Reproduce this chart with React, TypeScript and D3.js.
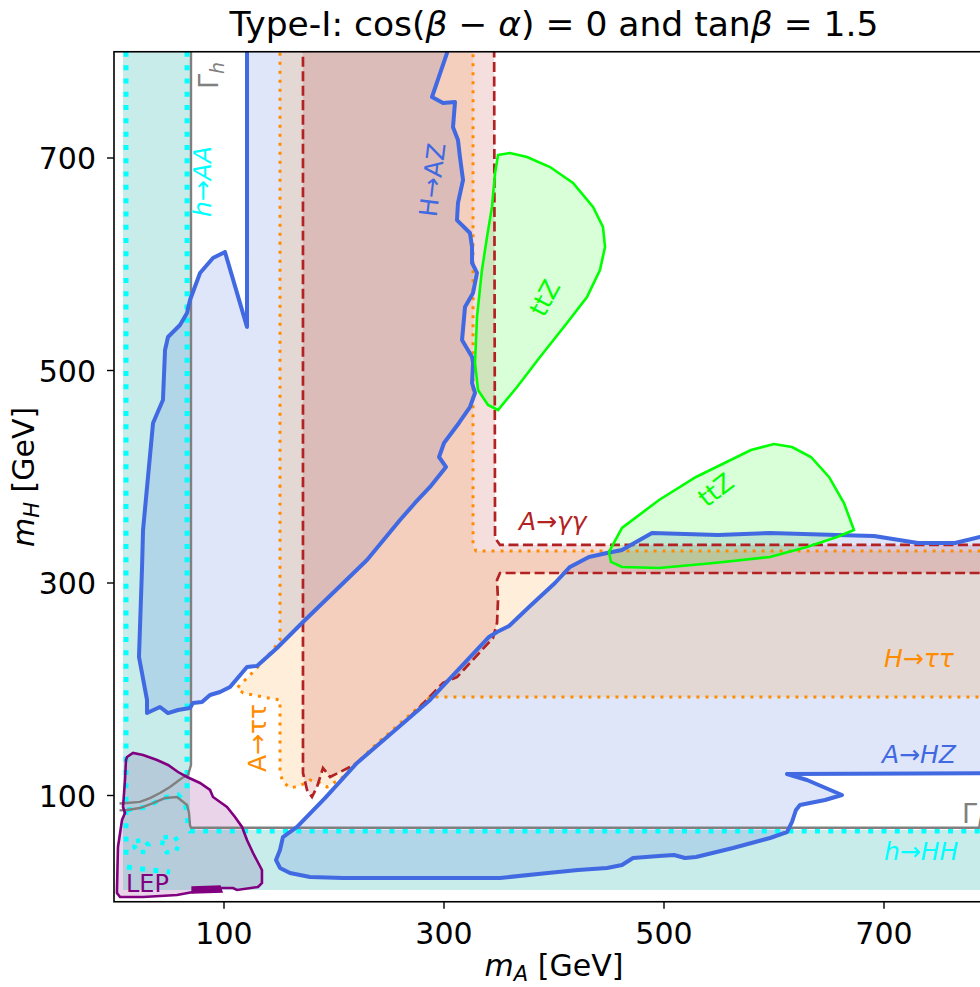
import React from 'react';
import * as d3 from 'd3';

// ---------- data (m_A, m_H) in GeV ----------
const xTicks = [100, 300, 500, 700];
const yTicks = [100, 300, 500, 700];

const tealRegion = [[8.2, 850], [8.2, 11.1], [850, 11.1], [850, 67.5], [69.1, 67.5], [69.1, 850]];

const lepRegion = [[11.8, 136.2], [17.3, 140.0], [26.4, 138.1], [39.1, 133.4], [49.1, 128.7], [58.2, 122.1], [66.4, 117.4], [78.2, 111.8], [87.3, 105.2], [90, 98.6], [102.7, 89.2], [110, 79.8], [116.4, 70.4], [120.9, 58.1], [126.4, 45.9], [134.5, 29.9], [134.5, 17.6], [130.9, 13.9], [111.8, 11.1], [108.2, 12.9], [96.4, 12.9], [71.8, 9.2], [57.3, 6.4], [26.4, 4.5], [5.5, 4.5], [2.7, 8.2], [2.7, 11.1], [3.6, 51.5], [7.3, 77.0], [10, 83.5], [8.2, 89.2], [10, 114.6], [10.9, 133.4]];
const lepBlob = [[71, 13.9], [96.4, 14.8], [98.2, 9.2], [71, 8.2]];

const hazRegion = [[120.9, 850], [120.9, 541.0], [100.9, 611.5], [90, 605.9], [78.2, 591.8], [69.1, 566.4], [66.4, 554.1], [60, 542.8], [49.1, 531.5], [46.4, 519.3], [44.5, 472.2], [35.5, 450.6], [26.4, 349.9], [25.5, 315.1], [22.7, 230.4], [30, 189.9], [30, 177.6], [41.8, 183.3], [49.1, 177.6], [58.2, 180.5], [69.1, 182.4], [71.8, 187.1], [80, 188.0], [87.3, 194.6], [96.4, 197.4], [105.5, 202.1], [120.9, 221.0], [130, 221.9], [148.2, 238.8], [171.8, 263.3], [230, 321.6], [260, 359.3], [273.6, 375.3], [287.3, 390.4], [301.8, 409.2], [295.5, 418.6], [300, 431.8], [313.6, 450.6], [323.6, 465.6], [328.2, 478.8], [325.5, 488.2], [326.4, 507.1], [325.5, 512.7], [316.4, 528.7], [319.1, 559.8], [326.4, 573.0], [330, 591.8], [325.5, 601.2], [325.5, 616.2], [323.6, 629.4], [311.8, 641.6], [312.7, 657.6], [317.3, 679.3], [314.5, 700.9], [312.7, 717], [308.2, 729], [310, 752.7], [299.1, 751.8], [289.1, 757.4], [302.7, 798.8], [306, 850]];

const ahzRegion = [[850, 343.3], [787.3, 343.3], [764.5, 337.6], [730.9, 337.6], [690.9, 344.2], [657.3, 345.2], [596.4, 347.1], [549.1, 345.2], [489.1, 347.1], [461.8, 331.1], [448.2, 328.2], [431.8, 324.5], [414.5, 315.1], [400.9, 300], [377.3, 277.4], [359.1, 259.5], [348.2, 253.9], [340.9, 249.2], [287.3, 189.9], [220.9, 130.6], [191.8, 97.6], [166.4, 70.4], [153.6, 60.9], [150.9, 48.7], [147.3, 39.3], [150.9, 31.8], [160, 27.1], [178.2, 23.3], [208.2, 22.4], [269.1, 22.4], [350.9, 22.4], [394.5, 27.1], [421.8, 29.9], [448.2, 31.8], [461.8, 34.6], [471.8, 41.2], [495.5, 43.1], [509.1, 44.0], [519.1, 41.2], [529.1, 42.1], [562.7, 50.6], [596.4, 60.0], [611.8, 65.6], [616.4, 75.1], [620, 86.4], [623.6, 91.1], [646.4, 95.8], [661.8, 100.5], [630, 114.6], [611.8, 120.2], [850, 121.2]];

const tautauRegion = [[150.9, 850], [150.9, 246.4], [144.5, 237.0], [130, 220.0], [111.8, 201.2], [117.3, 196.5], [135.5, 192.7], [150.9, 189.9], [150.9, 121.2], [153.6, 112.7], [160, 107.1], [169.1, 109.0], [178.2, 114.6], [187.3, 111.8], [193.6, 108.0], [208.2, 117.4], [235.5, 145.6], [287.3, 192.7], [850, 192.7], [850, 330.1], [329.1, 330.1], [326.4, 335.8], [326.4, 850]];

const gagaRegion = [[171.8, 850], [171.8, 121.2], [175.5, 105.2], [180, 98.6], [184.5, 108.0], [190, 125.9], [196.4, 117.4], [214.5, 126.8], [220.9, 130.6], [241.8, 149.4], [269.1, 173.9], [299.1, 205.9], [311.8, 211.5], [323.6, 224.7], [344.5, 248.2], [348.2, 262.4], [349.1, 284.0], [348.2, 302.8], [350.9, 309.4], [850, 309.4], [850, 335.8], [350.9, 335.8], [346.4, 342.4], [345.5, 850]];

const ttzUpper = [[349.1, 702.8], [360, 704.7], [375.5, 700.9], [396.4, 691.5], [417.3, 676.5], [435.5, 653.9], [444.5, 635.1], [446.4, 616.2], [441.8, 594.6], [430, 569.2], [411.8, 544.7], [387.3, 512.7], [366.4, 484.5], [349.1, 462.8], [340, 467.5], [330.9, 481.6], [328.2, 507.1], [330, 550.4], [334.5, 594.6], [339.1, 625.6], [343.6, 653.9], [346.4, 685.9]];

const ttzLower = [[450, 329.2], [461.8, 351.8], [495.5, 378.1], [529.1, 399.8], [579.1, 425.2], [600, 430.8], [616.4, 428.0], [633.6, 418.6], [650, 399.8], [663.6, 375.3], [672.7, 349.9], [657.3, 343.3], [630, 333.9], [596.4, 324.5], [545.5, 318.8], [495.5, 314.1], [461.8, 315.1], [451.8, 319.8]];

const cyanLeft = [[10.9, 850], [10.9, 39]];
const cyanRight = [[66.4, 850], [66.4, 100]];
const cyanCorner = [[11.8, 86.4], [30, 89.2], [44.5, 97.6], [58.2, 100.5], [64.5, 93], [66.4, 83.5], [67.3, 70.4], [69.1, 66.6], [850, 66.6]];
const cyanLoop1 = [[20, 57], [27.5, 58.5], [31.5, 53], [28.5, 47], [21.5, 46.5], [18.5, 51.5]];
const cyanLoop2 = [[45, 60.5], [54.5, 61.5], [59.5, 55.5], [56.5, 48], [48, 46.5], [43.5, 52.5]];
const cyanBottom = [[11.8, 32.7], [32.7, 29.9], [50.9, 28]];

const grayLine1 = [[70, 850], [70, 128.7], [67.3, 119.3], [61.8, 116.5], [50.9, 108], [41.8, 102.4], [32.7, 97.6], [23.6, 94], [11.8, 93], [5, 92.5]];
const grayLine2 = [[5, 86], [11.8, 86.4], [23.6, 88.2], [35.5, 92.9], [46.4, 97.6], [57.3, 98.6], [66.4, 91.1], [68.2, 83.5], [69.1, 72], [70, 69.6], [850, 69.6]];

const FONT = 'DejaVu Sans, Verdana, sans-serif';

export default function App() {
  const x = d3.scaleLinear().domain([0, 800]).range([114, 994]);
  const y = d3.scaleLinear().domain([0, 800]).range([901.75, 51.75]);
  const line = d3.line<number[]>().x(d => x(d[0])).y(d => y(d[1]));
  const open = (pts: number[][]) => line(pts) || '';
  const closed = (pts: number[][]) => (line(pts) || '') + 'Z';

  const plotL = x(0), plotR = x(800), plotT = y(800), plotB = y(0);
  const annot = 25;

  return (
    <svg width={980} height={987} style={{ position: 'absolute', left: 0, top: 0, background: '#fff' }} fontFamily={FONT}>
      <defs>
        <clipPath id="plotclip">
          <rect x={plotL} y={plotT} width={plotR - plotL} height={plotB - plotT} />
        </clipPath>
      </defs>
      <rect x={0} y={0} width={980} height={987} fill="#fff" />

      <g clipPath="url(#plotclip)">
        {/* fills */}
        <path d={closed(lepRegion)} fill="purple" fillOpacity={0.17} />
        <path d={closed(tealRegion)} fill="lightseagreen" fillOpacity={0.25} />
        <path d={closed(hazRegion)} fill="royalblue" fillOpacity={0.17} />
        <path d={closed(ahzRegion)} fill="royalblue" fillOpacity={0.17} />
        <path d={closed(tautauRegion)} fill="darkorange" fillOpacity={0.15} />
        <path d={closed(gagaRegion)} fill="firebrick" fillOpacity={0.15} />
        <path d={closed(ttzUpper)} fill="lime" fillOpacity={0.15} />
        <path d={closed(ttzLower)} fill="lime" fillOpacity={0.15} />

        {/* cyan dotted */}
        {[cyanLeft, cyanRight, cyanCorner, cyanBottom].map((p, i) => (
          <path key={'c' + i} d={open(p)} fill="none" stroke="cyan" strokeWidth={5} strokeDasharray="5 8.3" />
        ))}
        {[cyanLoop1, cyanLoop2].map((p, i) => (
          <path key={'cl' + i} d={closed(p)} fill="none" stroke="cyan" strokeWidth={4.5} strokeDasharray="4.5 7" />
        ))}

        {/* Gamma_h */}
        <path d={open(grayLine1)} fill="none" stroke="gray" strokeWidth={2.4} />
        <path d={open(grayLine2)} fill="none" stroke="gray" strokeWidth={2.4} />

        {/* outlines */}
        <path d={closed(tautauRegion)} fill="none" stroke="darkorange" strokeWidth={3} strokeDasharray="3 6" />
        <path d={closed(gagaRegion)} fill="none" stroke="firebrick" strokeWidth={2.7} strokeDasharray="10 4.5" />
        <path d={closed(hazRegion)} fill="none" stroke="royalblue" strokeWidth={4} strokeLinejoin="round" />
        <path d={closed(ahzRegion)} fill="none" stroke="royalblue" strokeWidth={4} strokeLinejoin="round" />
        <path d={closed(ttzUpper)} fill="none" stroke="lime" strokeWidth={2.6} />
        <path d={closed(ttzLower)} fill="none" stroke="lime" strokeWidth={2.6} />
        <path d={closed(lepRegion)} fill="none" stroke="purple" strokeWidth={2.6} />
        <path d={closed(lepBlob)} fill="purple" stroke="purple" strokeWidth={1.5} />

        {/* labels */}
        <text transform="translate(218,89) rotate(-90)" fontSize={27} fill="gray">Γ<tspan dy={6} fontSize={19} fontStyle="italic">h</tspan></text>
        <text transform="translate(211,217) rotate(-90)" fontSize={annot} fill="cyan" fontStyle="italic">h→AA</text>
        <text transform="translate(441,181) rotate(-83)" fontSize={annot} fill="royalblue" textAnchor="middle">H→AZ</text>
        <text transform="translate(266,772) rotate(-90)" fontSize={annot} fill="darkorange">A→ττ</text>
        <text transform="translate(545,298) rotate(-62)" fontSize={annot} fill="lime" textAnchor="middle" dominantBaseline="central">ttZ</text>
        <text transform="translate(716,490) rotate(-38)" fontSize={annot} fill="lime" textAnchor="middle" dominantBaseline="central">ttZ</text>
        <text x={519} y={530} fontSize={annot} fill="firebrick" fontStyle="italic">A→γγ</text>
        <text x={884} y={667} fontSize={annot} fill="darkorange" fontStyle="italic">H→ττ</text>
        <text x={882} y={763} fontSize={annot} fill="royalblue" fontStyle="italic">A→HZ</text>
        <text x={962} y={823} fontSize={27} fill="gray">Γ<tspan dy={6} fontSize={19} fontStyle="italic">h</tspan></text>
        <text x={884} y={860} fontSize={annot} fill="cyan" fontStyle="italic">h→HH</text>
        <text x={126} y={892} fontSize={24} fill="purple">LEP</text>
      </g>

      {/* frame */}
      <rect x={plotL} y={plotT} width={plotR - plotL} height={plotB - plotT} fill="none" stroke="#000" strokeWidth={1.6} />

      {/* ticks */}
      {xTicks.map(t => (
        <g key={'xt' + t}>
          <line x1={x(t)} x2={x(t)} y1={plotB} y2={plotB + 7} stroke="#000" strokeWidth={1.4} />
          <text x={x(t)} y={944} fontSize={30} textAnchor="middle">{t}</text>
        </g>
      ))}
      {yTicks.map(t => (
        <g key={'yt' + t}>
          <line x1={plotL - 7} x2={plotL} y1={y(t)} y2={y(t)} stroke="#000" strokeWidth={1.4} />
          <text x={96} y={y(t) + 11} fontSize={30} textAnchor="end">{t}</text>
        </g>
      ))}

      {/* axis labels */}
      <text x={554} y={976} fontSize={30} textAnchor="middle">
        <tspan fontStyle="italic">m</tspan><tspan fontStyle="italic" fontSize={21} dy={5}>A</tspan><tspan dy={-5}> [GeV]</tspan>
      </text>
      <text transform="translate(34,477) rotate(-90)" fontSize={30} textAnchor="middle">
        <tspan fontStyle="italic">m</tspan><tspan fontStyle="italic" fontSize={21} dy={5}>H</tspan><tspan dy={-5}> [GeV]</tspan>
      </text>

      {/* title */}
      <text x={554} y={36} fontSize={34.5} textAnchor="middle">
        Type-I: cos(<tspan fontStyle="italic">β</tspan> − <tspan fontStyle="italic">α</tspan>) = 0 and tan<tspan fontStyle="italic">β</tspan> = 1.5
      </text>
    </svg>
  );
}
